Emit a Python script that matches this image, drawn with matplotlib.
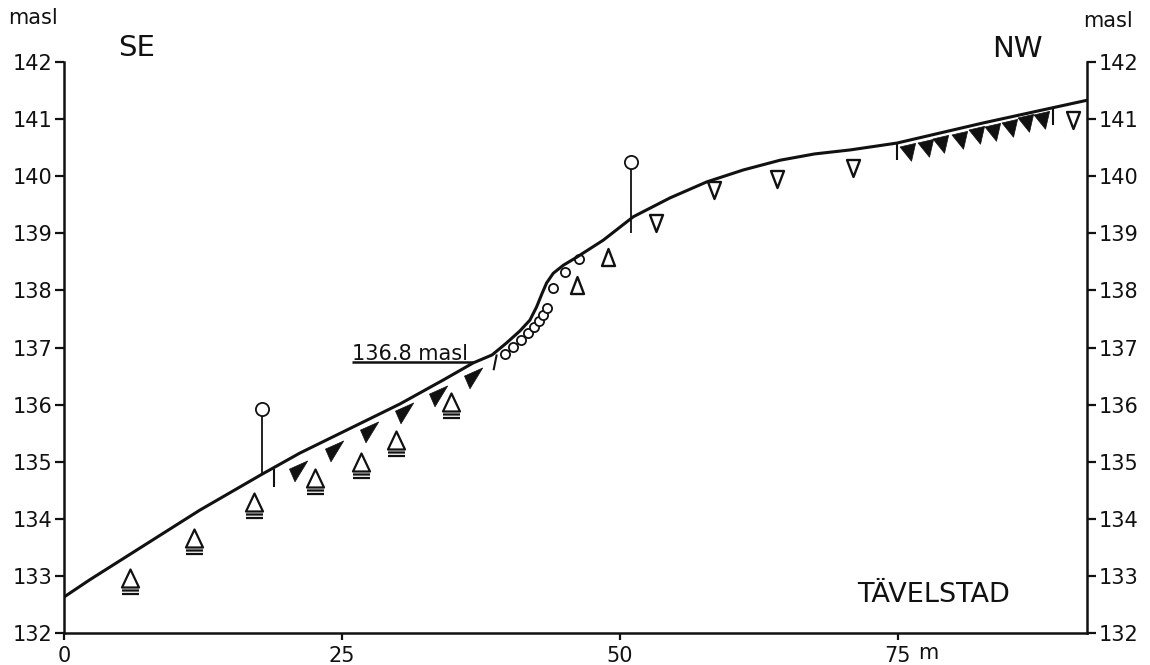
import numpy as np
import matplotlib.pyplot as plt
from matplotlib.path import Path
from matplotlib.transforms import Affine2D

plt.rcParams['font.family'] = ['DejaVu Sans']

# ground surface profile, distance (m) vs elevation (masl)
profile_x = [0.0, 2.3, 12.2, 17.8, 21.2, 30.2, 34.1, 36.8, 38.5, 39.8, 41.0, 41.9, 42.5, 43.0,
             43.4, 44.0, 44.9, 46.1, 48.5, 51.2, 54.5, 57.8, 61.1, 64.4, 67.5, 70.7, 74.9, 82.6, 92.0]
profile_y = [132.63, 132.93, 134.15, 134.78, 135.15, 136.01, 136.43, 136.73, 136.87, 137.08, 137.29,
             137.48, 137.71, 137.95, 138.13, 138.30, 138.44, 138.58, 138.88, 139.29, 139.62, 139.90,
             140.11, 140.28, 140.39, 140.46, 140.58, 140.93, 141.33]

# underlined open triangles
tri2_x = [5.9, 11.7, 17.1, 22.6, 26.7, 29.9, 34.8]
tri2_y = [132.96, 133.66, 134.29, 134.71, 134.99, 135.38, 136.05]

# open triangles (up)
triup_x = [46.1, 48.9]
triup_y = [138.09, 138.58]

# open triangles (down)
tridn_x = [53.2, 58.5, 64.1, 71.0, 90.7]
tridn_y = [139.18, 139.76, 139.95, 140.14, 140.98]

# filled wedges, lower slope
wedge_x = [20.95, 24.2, 27.3, 30.5, 33.5, 36.7]
wedge_y = [134.85, 135.20, 135.54, 135.87, 136.17, 136.48]

# filled down triangles, upper terrace
fdn_x = [76.0, 77.6, 79.0, 80.7, 82.2, 83.6, 85.2, 86.6, 88.0]
fdn_y = [140.42, 140.49, 140.56, 140.63, 140.72, 140.77, 140.84, 140.93, 140.98]

# small open circles on the scarp
circ_x = [39.66, 40.38, 41.10, 41.73, 42.27, 42.72, 43.08, 43.44, 43.97, 45.05, 46.31]
circ_y = [136.89, 137.01, 137.13, 137.25, 137.36, 137.46, 137.57, 137.69, 138.04, 138.32, 138.55]

# stems with circles
stem_x = [17.8, 51.0]
stem_bot = [134.78, 139.0]
stem_top = [135.92, 140.25]

# short vertical marks below the surface
mark_x = [18.9, 74.9, 88.9]
mark_top = [134.88, 140.58, 141.2]
mark_bot = [134.56, 140.28, 140.9]

shore_level = 136.75
shore_label = '136.8 masl'


def glyph(verts, codes):
    # custom marker + size in points (verts given in pixels)
    v = np.array(verts, float)
    ms = 2 * np.abs(v).max() * 72 / 100
    return Path(v, codes), ms


M, L, C = Path.MOVETO, Path.LINETO, Path.CLOSEPOLY

tri2_path, tri2_ms = glyph(
    [(0, 9), (-8.5, -9), (8.5, -9), (0, 9), (-8.5, -12), (8.5, -12), (-8.5, -15.5), (8.5, -15.5)],
    [M, L, L, C, M, L, M, L])
triup_path, triup_ms = glyph([(0, 8.5), (-6.5, -8.5), (6.5, -8.5), (0, 8.5)], [M, L, L, C])
tridn_path, tridn_ms = glyph([(0, -8.5), (-6.5, 8.5), (6.5, 8.5), (0, -8.5)], [M, L, L, C])
wedge_path, wedge_ms = glyph([(-8.0, 1.4), (10.2, 9.5), (-2.5, -11.3), (-8.0, 1.4)], [M, L, L, C])
fdn_v = Affine2D().rotate_deg(13).transform(np.array([(0, -9.0), (-8.0, 7.5), (8.0, 7.5), (0, -9.0)]))
fdn_path, fdn_ms = glyph(fdn_v, [M, L, L, C])

fig = plt.figure(figsize=(11.5, 6.65), dpi=100)
ax = fig.add_axes([64 / 1150, 32 / 665, 1023 / 1150, 571 / 665])
ax.set_xlim(0, 92)
ax.set_ylim(132, 142)

ink = '#111111'
ax.plot(profile_x, profile_y, color=ink, lw=2.2, zorder=3)

ax.hlines(shore_level, 25.9, 36.9, color=ink, lw=1.8)
ax.text(25.9, shore_level + 0.03, shore_label, fontsize=15, color=ink, ha='left', va='baseline')

ax.vlines(stem_x, stem_bot, stem_top, color=ink, lw=1.3)
ax.plot(stem_x, stem_top, 'o', ms=9.5, mfc='white', mec=ink, mew=1.3, ls='none', zorder=4)

ax.vlines(mark_x, mark_bot, mark_top, color=ink, lw=1.5)
ax.plot([38.9, 38.65], [136.86, 136.62], color=ink, lw=1.5)

ax.plot(tri2_x, tri2_y, ls='none', marker=tri2_path, ms=tri2_ms, mfc='none', mec=ink, mew=1.6)
ax.plot(triup_x, triup_y, ls='none', marker=triup_path, ms=triup_ms, mfc='none', mec=ink, mew=1.7)
ax.plot(tridn_x, tridn_y, ls='none', marker=tridn_path, ms=tridn_ms, mfc='none', mec=ink, mew=1.7)
ax.plot(wedge_x, wedge_y, ls='none', marker=wedge_path, ms=wedge_ms, mfc=ink, mec=ink, mew=0.5)
ax.plot(fdn_x, fdn_y, ls='none', marker=fdn_path, ms=fdn_ms, mfc=ink, mec=ink, mew=0.5)
ax.plot(circ_x, circ_y, 'o', ms=6.6, mfc='white', mec=ink, mew=1.3, ls='none')

for side in ['left', 'right', 'bottom']:
    ax.spines[side].set_linewidth(1.8)
    ax.spines[side].set_color(ink)
ax.spines['top'].set_visible(False)

ax.set_xticks([0, 25, 50, 75])
ax.set_yticks(range(132, 143))
ax.tick_params(axis='y', left=True, right=True, labelleft=True, labelright=True,
               direction='out', length=6.5, width=1.6, labelsize=15, pad=2, colors=ink)
ax.tick_params(axis='x', direction='out', length=5, width=1.6, labelsize=15, pad=4, colors=ink)
ax.text(76.8, 131.55, 'm', fontsize=15, color=ink, ha='left', va='baseline')

fig.text(8 / 1150, 1 - 24 / 665, 'masl', fontsize=15, color=ink, ha='left', va='baseline')
fig.text(1083 / 1150, 1 - 27 / 665, 'masl', fontsize=15, color=ink, ha='left', va='baseline')
fig.text(118 / 1150, 1 - 56 / 665, 'SE', fontsize=21, color=ink, ha='left', va='baseline')
fig.text(992 / 1150, 1 - 57 / 665, 'NW', fontsize=21, color=ink, ha='left', va='baseline')
fig.text(857 / 1150, 1 - 602 / 665, 'TÄVELSTAD', fontsize=19.5, color=ink, ha='left', va='baseline')

fig.savefig('out.png', dpi=100)
